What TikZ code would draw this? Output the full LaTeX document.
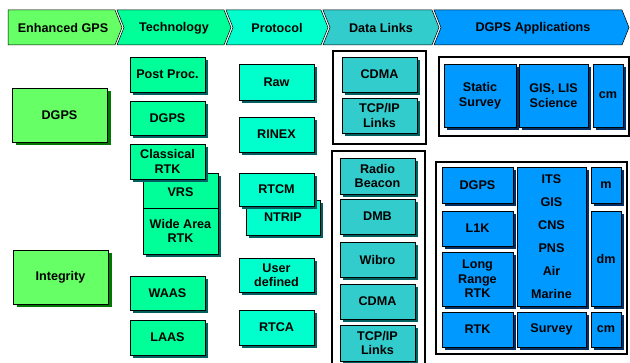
\documentclass[tikz,border=0pt]{standalone}
\usepackage{fontspec}
\setmainfont{Liberation Sans}
\usetikzlibrary{shadows}
\definecolor{cg}{HTML}{66FF66}
\definecolor{ct}{HTML}{00FF99}
\definecolor{cp}{HTML}{00FFCC}
\definecolor{cd}{HTML}{33CCCC}
\definecolor{ca}{HTML}{0099FF}
\definecolor{sg}{HTML}{007700}
\definecolor{st}{HTML}{005F5F}
\definecolor{sa}{HTML}{002F66}
\begin{document}
\begin{tikzpicture}[x=1pt,y=-1pt,
  box/.style={draw=black, line width=0.6pt, inner sep=1pt, align=center,
    font=\bfseries\fontsize{12.6}{14.5}\selectfont, text=black},
  sz/.style 2 args={minimum width=#1pt, minimum height=#2pt},
  gbox/.style={box, fill=cg, drop shadow={shadow xshift=3.5pt, shadow yshift=-3.5pt, fill=sg, opacity=1}},
  tbox/.style={box, fill=ct, drop shadow={shadow xshift=3pt, shadow yshift=-3pt, fill=st, opacity=1}},
  pbox/.style={box, fill=cp, drop shadow={shadow xshift=3pt, shadow yshift=-3pt, fill=st, opacity=1}},
  dbox/.style={box, fill=cd, drop shadow={shadow xshift=3pt, shadow yshift=-3pt, fill=st, opacity=1}},
  abox/.style={box, fill=ca, drop shadow={shadow xshift=3pt, shadow yshift=-3pt, fill=sa, opacity=1}},
  chev/.style={draw=black, line width=0.5pt},
  htext/.style={font=\bfseries\fontsize{12.6}{14.5}\selectfont, inner sep=0pt},
  frm/.style={draw=black, line width=1.6pt}
]
\useasboundingbox (0,0) rectangle (630,363);
\clip (0,0) rectangle (630,363);
\fill[white] (0,0) rectangle (630,363);

% header chevrons
\filldraw[chev, fill=cg] (8,10) -- (115,10) -- (122,27.5) -- (115,45) -- (8,45) -- cycle;
\filldraw[chev, fill=ct] (117,10) -- (224,10) -- (231,27.5) -- (224,45) -- (117,45) -- (124,27.5) -- cycle;
\filldraw[chev, fill=cp] (226,10) -- (321,10) -- (328,27.5) -- (321,45) -- (226,45) -- (233,27.5) -- cycle;
\filldraw[chev, fill=cd] (323,10) -- (432,10) -- (439,27.5) -- (432,45) -- (323,45) -- (330,27.5) -- cycle;
\filldraw[chev, fill=ca] (434,10) -- (622,10) -- (629,27.5) -- (622,45) -- (434,45) -- (441,27.5) -- cycle;
\node[htext] (h1) at (63,28) {Enhanced GPS};
\node[htext] (h2) at (174,28) {Technology};
\node[htext] (h3) at (277,28) {Protocol};
\node[htext] (h4) at (381,28) {Data Links};
\node[htext] (h5) at (533,28) {DGPS Applications};

% Enhanced GPS column
\node[gbox, sz={95}{54}] (gdgps) at (59.5,115) {DGPS};
\node[gbox, sz={95}{54}] (ginteg) at (60.5,277) {Integrity};

% Technology column
\node[tbox, sz={75}{35}] (pp) at (167.5,74.5) {Post Proc.};
\node[tbox, sz={75}{34}] (tdgps) at (167.5,118) {DGPS};
\node[tbox, sz={75}{35}] (vrs) at (180.5,190.5) {\\[-2pt]VRS};
\node[tbox, sz={75}{46}] (wart) at (180.5,231) {Wide Area\\RTK};
\node[tbox, sz={75}{35}] (crtk) at (167.5,161.5) {Classical\\RTK};
\node[tbox, sz={75}{34}] (waas) at (167.5,293) {WAAS};
\node[tbox, sz={75}{35}] (laas) at (167.5,337.5) {LAAS};

% Protocol column
\node[pbox, sz={75}{36}] (raw) at (276.5,82) {Raw};
\node[pbox, sz={75}{35}] (rinex) at (276.5,134.5) {RINEX};
\node[pbox, sz={74}{35}] (ntrip) at (283,217.5) {NTRIP};
\node[pbox, sz={75}{33}] (rtcm) at (276.5,189.5) {RTCM};
\node[pbox, sz={75}{34}] (user) at (276.5,275) {User\\defined};
\node[pbox, sz={75}{35}] (rtca) at (276.5,327.5) {RTCA};

% Data links column
\draw[frm] (333,51) rectangle (426,144);
\draw[frm] (332,151) rectangle (425,372);
\node[dbox, sz={75}{35}] (cdma1) at (379.5,74.5) {CDMA};
\node[dbox, sz={75}{35}] (tcp1) at (379.5,115.5) {TCP/IP\\Links};
\node[dbox, sz={75}{36}] (radio) at (377.5,176) {Radio\\Beacon};
\node[dbox, sz={75}{35}] (dmb) at (377.5,216.5) {DMB};
\node[dbox, sz={75}{35}] (wibro) at (377.5,259.5) {Wibro};
\node[dbox, sz={75}{35}] (cdma2) at (377.5,301.5) {CDMA};
\node[dbox, sz={75}{36}] (tcp2) at (377.5,343) {TCP/IP\\Links};

% Applications column
\draw[frm] (439,57) rectangle (629,136);
\node[abox, sz={72}{63}] (static) at (480,95.5) {Static\\Survey};
\node[abox, sz={69}{63}] (gislis) at (553.5,95.5) {GIS, LIS\\Science};
\node[abox, sz={30}{63}] (cm1) at (608,95.5) {cm};

\draw[frm] (436,162) rectangle (627,354);
\node[abox, sz={71}{36}] (adgps) at (477.5,185) {DGPS};
\node[abox, sz={71}{35}] (l1k) at (477.5,228.5) {L1K};
\node[abox, sz={71}{54}] (lrrtk) at (477.5,279) {Long\\Range\\RTK};
\node[abox, sz={71}{35}] (rtk) at (477.5,329.5) {RTK};
\node[abox, sz={69}{139}, font=\bfseries\fontsize{12.6}{23}\selectfont] (mid) at (551.5,236.5) {ITS\\GIS\\CNS\\PNS\\Air\\Marine};
\node[abox, sz={69}{35}] (survey) at (551.5,329.5) {Survey};
\node[abox, sz={30}{36}] (m) at (606,185) {m};
\node[abox, sz={30}{95}] (dm) at (606,258.5) {dm};
\node[abox, sz={30}{35}] (cm2) at (606,329.5) {cm};
\end{tikzpicture}
\end{document}
